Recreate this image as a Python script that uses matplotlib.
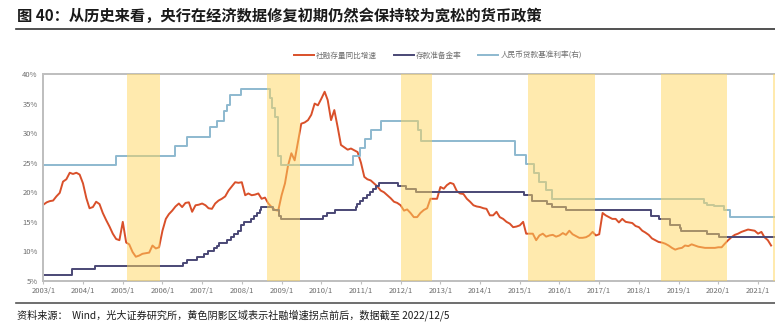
import matplotlib
matplotlib.use("Agg")
import matplotlib.pyplot as plt
import numpy as np
import pandas as pd

plt.rcParams['font.family'] = ['Noto Sans CJK SC', 'DejaVu Sans']

# 社融存量同比增速, monthly from 2003/1
tsf_growth = [
    17.9, 18.3, 18.5, 18.6, 19.3, 19.9, 21.8, 22.2, 23.3, 23.1, 23.3, 23.0,   # 2003
    21.5, 19.0, 17.3, 17.5, 18.4, 18.0, 16.5, 15.3, 14.2, 13.0, 12.1, 11.9,   # 2004
    15.0, 11.5, 11.2, 9.9, 9.1, 9.3, 9.6, 9.7, 9.8, 11.0, 10.5, 10.7,         # 2005
    13.5, 15.5, 16.3, 16.9, 17.6, 18.1, 17.5, 18.2, 18.3, 16.7, 17.8, 17.9,   # 2006
    18.1, 17.8, 17.3, 17.2, 18.1, 18.6, 18.9, 19.3, 20.3, 21.0, 21.7, 21.6,   # 2007
    21.7, 19.5, 19.8, 19.5, 19.6, 19.8, 18.9, 19.1, 18.1, 17.5, 17.0, 16.9,   # 2008
    19.5, 21.5, 24.5, 26.6, 25.4, 28.5, 31.6, 31.8, 32.2, 33.1, 35.0, 34.7,   # 2009
    35.8, 37.0, 35.6, 32.2, 33.9, 31.0, 28.0, 27.6, 27.2, 27.4, 27.1, 26.8,   # 2010
    25.0, 22.6, 22.2, 22.0, 21.5, 21.0, 20.3, 20.0, 19.5, 19.0, 18.4, 18.2,   # 2011
    17.8, 16.9, 17.1, 16.5, 15.8, 15.8, 16.5, 17.0, 17.3, 18.9, 18.9, 18.9,   # 2012
    20.9, 20.6, 21.2, 21.6, 21.4, 20.2, 19.8, 19.7, 18.9, 18.4, 17.8, 17.6,   # 2013
    17.5, 17.3, 17.2, 16.1, 16.1, 16.7, 15.8, 15.5, 15.0, 14.7, 14.1, 14.2,   # 2014
    14.4, 15.0, 13.0, 13.0, 13.0, 11.9, 12.7, 13.0, 12.5, 12.7, 12.8, 12.5,   # 2015
    12.7, 13.1, 12.8, 13.5, 12.9, 12.6, 12.3, 12.3, 12.4, 12.7, 13.3, 12.7,   # 2016
    12.9, 16.5, 16.1, 15.8, 15.5, 15.5, 14.9, 15.5, 15.0, 14.9, 14.8, 14.3,   # 2017
    14.1, 13.5, 13.2, 12.8, 12.2, 11.9, 11.6, 11.5, 11.3, 11.0, 10.6, 10.3,   # 2018
    10.5, 10.6, 11.0, 10.9, 11.2, 11.0, 10.8, 10.7, 10.6, 10.6, 10.6, 10.6,   # 2019
    10.7, 10.7, 11.3, 11.9, 12.4, 12.8, 13.0, 13.3, 13.5, 13.7, 13.6, 13.5,   # 2020
    13.0, 13.3, 12.4, 11.9, 11.0,                                             # 2021
]
tsf_dates = pd.date_range('2003-01-01', periods=len(tsf_growth), freq='MS')

# 存款准备金率 (change dates and levels)
rrr_dates = ['2003-01-01', '2003-09-21', '2004-04-25', '2006-07-05', '2006-08-15',
             '2006-11-15', '2007-01-15', '2007-02-25', '2007-04-16', '2007-05-15',
             '2007-06-05', '2007-08-15', '2007-09-25', '2007-10-25', '2007-11-26',
             '2007-12-25', '2008-01-25', '2008-03-25', '2008-04-25', '2008-05-20',
             '2008-06-15', '2008-06-25', '2008-10-15', '2008-12-05', '2008-12-25',
             '2010-01-18', '2010-02-25', '2010-05-10', '2010-11-16', '2010-11-29',
             '2010-12-20', '2011-01-20', '2011-02-24', '2011-03-25', '2011-04-21',
             '2011-05-18', '2011-06-20', '2011-12-05', '2012-02-24', '2012-05-18',
             '2015-02-05', '2015-04-20', '2015-09-06', '2015-10-24', '2016-03-01',
             '2018-04-25', '2018-07-05', '2018-10-15', '2019-01-15', '2019-01-25',
             '2019-09-16', '2020-01-06', '2021-06-30']
rrr_values = [6.0, 7.0, 7.5, 8.0, 8.5, 9.0, 9.5, 10.0, 10.5, 11.0, 11.5, 12.0, 12.5,
              13.0, 13.5, 14.5, 15.0, 15.5, 16.0, 16.5, 17.0, 17.5, 17.0, 16.0, 15.5,
              16.0, 16.5, 17.0, 17.5, 18.0, 18.5, 19.0, 19.5, 20.0, 20.5, 21.0, 21.5,
              21.0, 20.5, 20.0, 19.5, 18.5, 18.0, 17.5, 17.0, 16.0, 15.5, 14.5, 14.0,
              13.5, 13.0, 12.5, 12.5]

# 人民币贷款基准利率 (right axis)
loan_dates = ['2003-01-01', '2004-10-29', '2006-04-28', '2006-08-19', '2007-03-18',
              '2007-05-19', '2007-07-21', '2007-08-22', '2007-09-15', '2007-12-21',
              '2008-09-16', '2008-10-09', '2008-10-30', '2008-11-27', '2008-12-23',
              '2010-10-20', '2010-12-26', '2011-02-09', '2011-04-06', '2011-07-07',
              '2012-06-08', '2012-07-06', '2014-11-22', '2015-03-01', '2015-05-11',
              '2015-06-28', '2015-08-26', '2015-10-24', '2019-08-20', '2019-09-20',
              '2019-11-20', '2020-02-20', '2020-04-20', '2021-06-30']
loan_values = [5.31, 5.58, 5.85, 6.12, 6.39, 6.57, 6.84, 7.02, 7.29, 7.47, 7.20, 6.93,
               6.66, 5.58, 5.31, 5.56, 5.81, 6.06, 6.31, 6.56, 6.31, 6.00, 5.60, 5.35,
               5.10, 4.85, 4.60, 4.35, 4.25, 4.20, 4.15, 4.05, 3.85, 3.85]

# turning-point periods of TSF growth
shade_start = ['2005-02-10', '2008-08-20', '2012-01-01', '2015-03-15', '2018-07-20', '2021-05-20']
shade_end = ['2005-12-10', '2009-06-15', '2012-10-20', '2016-11-20', '2020-03-20', '2021-12-31']

years = pd.date_range('2003-01-01', '2021-01-01', freq='YS')

c_red = '#D9502A'
c_purple = '#4A4775'
c_blue = '#8DB9CF'
c_grid = '#BFBFBF'
c_text = '#6E6E6E'

fig = plt.figure(figsize=(7.75, 3.3), dpi=100)
ax = fig.add_axes([0.0559, 0.1485, 1.0 - 0.0559, 0.6273])
ax2 = ax.twinx()

l1, = ax.plot(tsf_dates, tsf_growth, color=c_red, lw=1.4, label='社融存量同比增速')
l2, = ax.plot(pd.to_datetime(rrr_dates), rrr_values, color=c_purple, lw=1.4,
              drawstyle='steps-post', label='存款准备金率')
l3, = ax2.plot(pd.to_datetime(loan_dates), loan_values, color=c_blue, lw=1.4,
               drawstyle='steps-post', label='人民币贷款基准利率(右)')

for s, e in zip(shade_start, shade_end):
    ax2.axvspan(pd.Timestamp(s), pd.Timestamp(e), color='#FFD75E', alpha=0.5, lw=0, zorder=5)

ax.set_ylim(5, 40)
ax.set_yticks(np.arange(5, 41, 5))
ax.set_yticklabels(['%d%%' % v for v in range(5, 41, 5)])
ax2.set_ylim(2.05, 7.883)
ax2.set_yticks([])
ax.set_xlim(pd.Timestamp('2003-01-01'), pd.Timestamp('2021-06-06'))
ax.set_xticks(years)
ax.set_xticklabels(['%d/1' % d.year for d in years])

for a in (ax, ax2):
    for side in ('top', 'left', 'bottom'):
        a.spines[side].set_color(c_grid)
        a.spines[side].set_linewidth(1.3)
    a.spines['right'].set_visible(False)
ax.tick_params(axis='y', length=0, labelsize=5.5, labelcolor=c_text, pad=4)
ax.tick_params(axis='x', length=2.5, color=c_grid, labelsize=5.5, labelcolor=c_text, pad=1.5)

fig.legend(handles=[l1, l2, l3], loc='center', bbox_to_anchor=(0.565, 1 - 56 / 330),
           ncol=3, frameon=False, fontsize=5.5, handlelength=2.6, handletextpad=0.3,
           columnspacing=2.2, labelcolor=c_text)

# title and footer
fig.text(17 / 775, 1 - 16 / 330, '图 40：从历史来看，央行在经济数据修复初期仍然会保持较为宽松的货币政策',
         fontsize=11, fontweight='bold', va='center', ha='left', color='#1a1a1a')
fig.add_artist(plt.Line2D([16 / 775, 1.0], [1 - 29 / 330, 1 - 29 / 330], color='#333333', lw=1.2))
fig.add_artist(plt.Line2D([16 / 775, 1.0], [1 - 303 / 330, 1 - 303 / 330], color='#555555', lw=1.2))
fig.text(17 / 775, 1 - 315 / 330,
         '资料来源：  Wind，光大证券研究所，黄色阴影区域表示社融增速拐点前后，数据截至 2022/12/5',
         fontsize=7.3, va='center', ha='left', color='#1a1a1a')

fig.savefig('out.png', dpi=100)
